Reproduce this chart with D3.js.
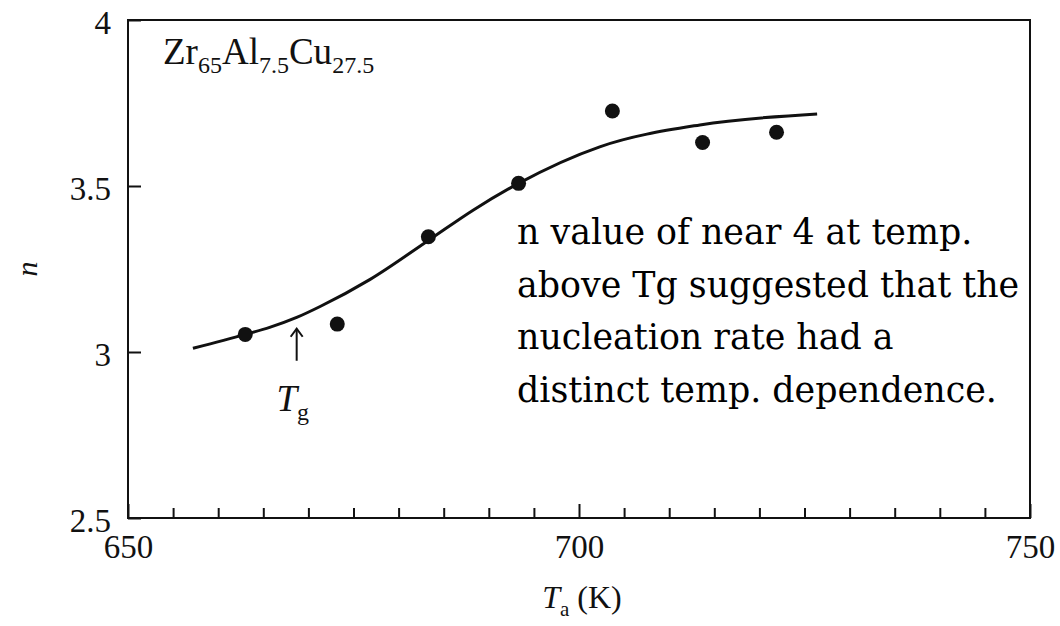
<!DOCTYPE html>
<html>
<head>
<meta charset="utf-8">
<script src="https://cdn.jsdelivr.net/npm/d3@7"></script>
<style>
    body { margin: 0; background: #fff; }
    svg text { font-family: "Liberation Serif", "Times New Roman", serif; fill: #111; }
</style>
</head>
<body>
<div id="chart"></div>
<script>
// measured points (annealing temperature vs Avrami exponent n)
const tempK = [663.0, 673.2, 683.3, 693.3, 703.7, 713.7, 721.9];
const nValues = [3.053, 3.084, 3.347, 3.508, 3.726, 3.631, 3.662];

// fitted curve
const fitK = [657.2, 663.0, 665.7, 668.7, 671.3, 676.8, 683.3, 688.3, 693.3, 702.3, 713.4, 726.4];
const fitN = [3.011, 3.053, 3.074, 3.104, 3.137, 3.218, 3.336, 3.428, 3.508, 3.618, 3.684, 3.717];

const xMajor = [650, 700, 750];
const xMinor = [655, 660, 665, 670, 675, 680, 685, 690, 695, 705, 710, 715, 720, 725, 730, 735, 740, 745];
const yTicks = [2.5, 3, 3.5, 4];
const tgK = 668.7;

const noteLines = [
    "n value of near 4 at temp.",
    "above Tg suggested that the",
    "nucleation rate had a",
    "distinct temp. dependence."
];

let margin = {top: 20, right: 30, bottom: 108, left: 128};
let width = 1060 - margin.left - margin.right;
let height = 626 - margin.top - margin.bottom;

let svg = d3.select("#chart").append("svg")
    .attr("width", 1060)
    .attr("height", 626)
    .append("g")
    .attr("transform", "translate(" + margin.left + "," + margin.top + ")");

let x = d3.scaleLinear().domain([650, 750]).range([0, width]);
let y = d3.scaleLinear().domain([2.5, 4]).range([height, 0]);

// minor ticks on the bottom, pointing inward
svg.append("g")
    .attr("transform", "translate(0," + height + ")")
    .call(d3.axisBottom(x).tickValues(xMinor).tickSize(-10).tickFormat(""))
    .call(g => g.select(".domain").remove())
    .selectAll("line").attr("stroke", "#111").attr("stroke-width", 2);

// major ticks + labels
let xAxis = svg.append("g")
    .attr("transform", "translate(0," + height + ")")
    .call(d3.axisBottom(x).tickValues(xMajor).tickSize(-14).tickPadding(0).tickFormat(d3.format("d")))
    .call(g => g.select(".domain").remove());
xAxis.selectAll("line").attr("stroke", "#111").attr("stroke-width", 2);
xAxis.selectAll("text")
    .attr("y", 40)
    .attr("dy", 0)
    .style("font-size", "33px");

let yAxis = svg.append("g")
    .call(d3.axisLeft(y).tickValues(yTicks).tickSize(-13).tickPadding(17).tickFormat(d => d))
    .call(g => g.select(".domain").remove());
yAxis.selectAll("line").attr("stroke", "#111").attr("stroke-width", 2);
yAxis.selectAll("text")
    .attr("dy", "0.4em")
    .style("font-size", "33px");

// frame
svg.append("rect")
    .attr("width", width)
    .attr("height", height)
    .attr("fill", "none")
    .attr("stroke", "#111")
    .attr("stroke-width", 2);

// fitted curve
let line = d3.line()
    .x((d, i) => x(fitK[i]))
    .y(d => y(d))
    .curve(d3.curveMonotoneX);

svg.append("path")
    .datum(fitN)
    .attr("d", line)
    .attr("fill", "none")
    .attr("stroke", "#111")
    .attr("stroke-width", 3);

// data points
svg.selectAll(".dot")
    .data(nValues)
    .enter()
    .append("circle")
    .attr("class", "dot")
    .attr("cx", (d, i) => x(tempK[i]))
    .attr("cy", d => y(d))
    .attr("r", 7.5)
    .attr("fill", "#111");

// Tg arrow
let arrowTop = y(3.07);
svg.append("line")
    .attr("x1", x(tgK)).attr("x2", x(tgK))
    .attr("y1", arrowTop).attr("y2", arrowTop + 32)
    .attr("stroke", "#111").attr("stroke-width", 2);
svg.append("path")
    .attr("d", "M" + (x(tgK) - 6) + "," + (arrowTop + 8) + "L" + x(tgK) + "," + arrowTop + "L" + (x(tgK) + 6) + "," + (arrowTop + 8))
    .attr("fill", "none").attr("stroke", "#111").attr("stroke-width", 2);

let tg = svg.append("text")
    .attr("x", x(tgK) - 4)
    .attr("y", arrowTop + 82)
    .attr("text-anchor", "middle")
    .style("font-size", "37px");
tg.append("tspan").style("font-style", "italic").text("T");
tg.append("tspan").attr("dy", 9).style("font-size", "24px").text("g");

// alloy label
let alloy = svg.append("text")
    .attr("x", 35)
    .attr("y", 44)
    .style("font-size", "37px");
[["Zr", "65"], ["Al", "7.5"], ["Cu", "27.5"]].forEach(p => {
    alloy.append("tspan").attr("baseline-shift", "0").text(p[0]);
    alloy.append("tspan").attr("baseline-shift", "-9").style("font-size", "24px").text(p[1]);
});

// axis titles
let xt = svg.append("text")
    .attr("x", x(700) + 3)
    .attr("y", height + 90)
    .attr("text-anchor", "middle")
    .style("font-size", "32px");
xt.append("tspan").style("font-style", "italic").text("T");
xt.append("tspan").attr("baseline-shift", "-8").style("font-size", "21px").text("a");
xt.append("tspan").text(" (K)");

svg.append("text")
    .attr("transform", "translate(-91," + y(3.25) + ") rotate(-90)")
    .attr("text-anchor", "middle")
    .style("font-size", "30px")
    .style("font-style", "italic")
    .text("n");

// annotation
let note = svg.append("text")
    .attr("x", 517 - margin.left)
    .attr("y", 244 - margin.top)
    .style("font-size", "34.8px")
    .style("font-family", "'DejaVu Serif', serif")
    .style("fill", "#000");
note.selectAll("tspan")
    .data(noteLines)
    .enter()
    .append("tspan")
    .attr("x", 517 - margin.left)
    .attr("dy", (d, i) => i === 0 ? 0 : 52.5)
    .text(d => d);
</script>
</body>
</html>
